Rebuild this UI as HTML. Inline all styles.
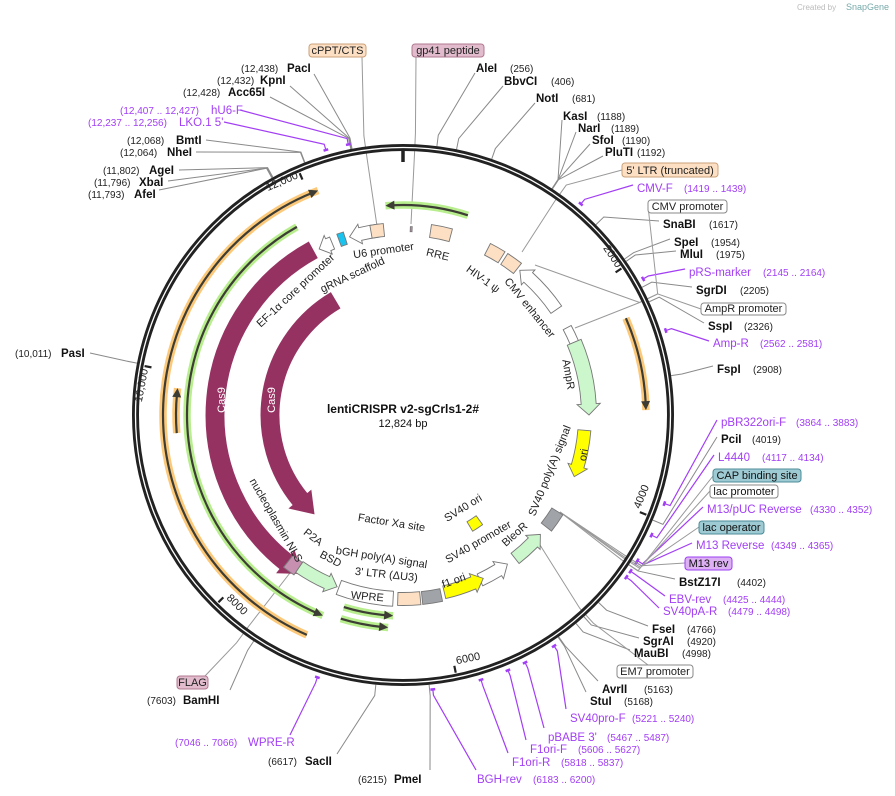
<!DOCTYPE html>
<html><head><meta charset="utf-8"><style>
html,body{margin:0;padding:0;background:#fff;}
svg{display:block;font-family:"Liberation Sans","DejaVu Sans",sans-serif;}
.en{font-weight:bold;font-size:11.5px;fill:#111;}
.ps{font-size:10px;fill:#222;}
.pr{font-size:11.5px;fill:#a23ef5;}
.prs{font-size:10px;fill:#a23ef5;}
.fl{font-size:11px;fill:#222;}
</style></head><body>
<svg id="map" width="895" height="796" viewBox="0 0 895 796" xmlns="http://www.w3.org/2000/svg">
<text x="797" y="10" font-size="8" fill="#bbb">Created by</text>
<text x="846" y="10" font-size="9" fill="#7aa">SnapGene</text>
<g id="leaders"></g>
<g id="ring"></g>
<g id="arcs"></g>
<g id="feats"></g>
<g id="labels"></g>
<text x="403" y="413" text-anchor="middle" font-weight="bold" font-size="12" fill="#111">lentiCRISPR v2-sgCrls1-2#</text>
<text x="403" y="427" text-anchor="middle" font-size="11" fill="#111">12,824 bp</text>
</svg>
<script>
const TOTAL = 12824;
const CX = 403, CY = 415, R = 267.5;
// highlight arcs (ORFs): start bp, end bp, radius, colour, direction
const arcStarts = [12653, 2370, 7253, 9455, 7188, 6512, 6554];
const arcEnds   = [641, 3165, 12086, 9860, 11776, 7022, 7017];
const arcRadii  = [210, 243, 240, 227, 216, 201, 213];
const arcKinds  = ['g','o','o','o','g','g','g'];
const arcDirs   = [-1, 1, 1, 1, -1, -1, -1];
// features
const featNames  = ['Cas9-outer','Cas9-inner','EF-1a-core-promoter','gRNA-scaffold','U6-promoter','cPPT-CTS','gp41-peptide','RRE','HIV-1-psi','5-LTR-box','CMV-enhancer','CMV-promoter','AmpR','ori','SV40-polyA','BleoR','SV40-promoter','f1-ori','bGH-polyA','3-LTR','WPRE','BSD','P2A-NLS','SV40-ori'];
const featStarts = [7570, 7908, 11870, 12108, 12229, 12471, 80, 303, 962, 1175, 1386, 2208, 2386, 3377, 4346, 4666, 5165, 5480, 5985, 6220, 6522, 7160, 7634, 5130];
const featEnds   = [11804, 11734, 12026, 12180, 12560, 12614, 100, 530, 1140, 1353, 1977, 2386, 3206, 3911, 4560, 5058, 5521, 5945, 6200, 6470, 7139, 7634, 7770, 5310];
const featRadii  = [188, 133, 186, 186, 186, 186, 186, 186, 186, 186, 186, 186, 186, 182, 182, 182, 182, 182, 184, 184, 184, 184, 186, 130];
const featWidths = [18, 18, 13, 13, 13, 13, 5, 13, 13, 13, 13, 9, 15, 13, 13, 13, 13, 13, 13, 13, 15, 13, 15, 11];
const featDirs   = [-1, -1, -1, 0, -1, 0, 0, 0, 0, 0, -1, 0, 1, 1, 0, -1, -1, -1, 0, 0, 0, -1, 0, 0];
const featFills  = ['#963262','#963262','#ffffff','#19c3ef','#ffffff','#fde0c4','#c78fb0','#fde0c4','#fde0c4','#fde0c4','#ffffff','#ffffff','#ccf7cc','#ffff00','#a0a3a8','#ccf7cc','#ffffff','#ffff00','#a0a3a8','#fde0c4','#ffffff','#ccf7cc','#c78fb0','#ffff00'];
// labels: name, position text, type, bp
const labNames = ['PacI','KpnI','Acc65I','hU6-F','LKO.1 5\'','BmtI','NheI','AgeI','XbaI','AfeI','PasI','BamHI','WPRE-R','SacII','PmeI','BGH-rev','F1ori-R','F1ori-F','pBABE 3\'','SV40pro-F','StuI','AvrII','MauBI','SgrAI','FseI','SV40pA-R','EBV-rev','BstZ17I','M13 Reverse','M13/pUC Reverse','L4440','PciI','pBR322ori-F','FspI','Amp-R','SspI','SgrDI','pRS-marker','MluI','SpeI','SnaBI','CMV-F','PluTI','SfoI','NarI','KasI','NotI','BbvCI','AleI'];
const labPosText = ['(12,438)','(12,432)','(12,428)','(12,407 .. 12,427)','(12,237 .. 12,256)','(12,068)','(12,064)','(11,802)','(11,796)','(11,793)','(10,011)','(7603)','(7046 .. 7066)','(6617)','(6215)','(6183 .. 6200)','(5818 .. 5837)','(5606 .. 5627)','(5467 .. 5487)','(5221 .. 5240)','(5168)','(5163)','(4998)','(4920)','(4766)','(4479 .. 4498)','(4425 .. 4444)','(4402)','(4349 .. 4365)','(4330 .. 4352)','(4117 .. 4134)','(4019)','(3864 .. 3883)','(2908)','(2562 .. 2581)','(2326)','(2205)','(2145 .. 2164)','(1975)','(1954)','(1617)','(1419 .. 1439)','(1192)','(1190)','(1189)','(1188)','(681)','(406)','(256)'];
const labTypes = ['e','e','e','p','p','e','e','e','e','e','e','e','p','e','e','p','p','p','p','p','e','e','e','e','e','p','p','e','p','p','p','e','p','e','p','e','e','p','e','e','e','p','e','e','e','e','e','e','e'];
const labBps = [12438,12432,12428,12417,12246,12068,12064,11802,11796,11793,10011,7603,7056,6617,6215,6191,5827,5616,5477,5230,5168,5163,4998,4920,4766,4488,4434,4402,4357,4341,4125,4019,3873,2908,2571,2326,2205,2154,1975,1954,1617,1429,1192,1190,1189,1188,681,406,256];
// layout for labels (not data): name x, pos x, y, attach x, attach y
const labLayout = [[287,241,68,314,74],[260,217,80,290,86],[228,183,92,270,97],[211,120,110,240,110],[179,88,122,224,122],[176,127,140,206,140],[167,120,152,196,152],[149,103,170,179,170],[139,94,182,168,181],[134,88,194,159,190],[61,15,353,90,353],[183,147,700,230,690],[248,175,742,290,735],[305,268,761,337,754],[394,358,779,430,770],[477,533,779,476,770],[512,561,762,508,753],[530,578,749,526,740],[548,607,737,544,728],[570,632,718,566,709],[590,624,701,586,692],[602,644,689,598,681],[634,682,653,630,650],[643,687,641,639,638],[652,687,629,648,626],[663,728,611,659,608],[669,723,599,665,596],[679,737,582,675,579],[696,771,545,692,543],[707,810,509,703,507],[718,762,457,714,455],[721,752,439,717,437],[721,796,422,717,420],[717,753,369,713,366],[713,760,343,709,341],[708,744,326,704,323],[696,740,290,692,287],[689,763,272,685,269],[680,716,254,676,251],[674,711,242,670,239],[663,709,224,659,221],[637,684,188,633,185],[605,637,152,603,156],[592,622,140,590,144],[578,611,128,576,132],[563,597,116,562,120],[536,572,98,535,103],[504,551,81,503,86],[476,510,68,475,73]];
// boxed feature labels
const boxTexts = ['cPPT/CTS','gp41 peptide','5\' LTR (truncated)','CMV promoter','AmpR promoter','CAP binding site','lac promoter','lac operator','M13 rev','EM7 promoter','FLAG'];
const boxBps = [12540, 90, 1260, 2300, 2300, 4400, 4380, 4370, 4357, 4900, 7700];
const boxLayout = [[309,44,366,57,'#fde0c4','#caa078','#222',362,57],[412,44,484,57,'#e2bccd','#b07890','#222',416,57],[622,163,718,177,'#fde0c4','#caa078','#222',622,170],[648,200,727,213,'#fff','#888','#222',648,206],[701,303,786,315,'#fff','#888','#222',701,309],[713,469,801,482,'#9dcad3','#4d8c98','#111',713,476],[710,485,778,498,'#fff','#888','#111',710,491],[699,521,764,534,'#9dcad3','#4d8c98','#111',699,527],[685,557,732,570,'#dcb0f2','#9d3ff2','#111',685,563],[617,665,693,678,'#fff','#888','#222',648,665],[177,676,208,689,'#e2bccd','#b07890','#222',205,676]];
const boxTargets = [[377,226],[411,224],[522,252],[535,265],[575,328],[560,512],[560,512],[560,512],[560,512],[540,545],[300,560]];
const tickBps = [2000,4000,6000,8000,10000,12000];
const tickTexts = ['2000','4000','6000','8000','10,000','12,000'];

const NS='http://www.w3.org/2000/svg';
function ang(bp){return bp/TOTAL*360;}
function pol(r,a){const t=a*Math.PI/180;return [CX+r*Math.sin(t),CY-r*Math.cos(t)];}
function mk(tag,attrs,parent){const e=document.createElementNS(NS,tag);for(const k in attrs)e.setAttribute(k,attrs[k]);parent.appendChild(e);return e;}
function span(s,e){let a0=ang(s),a1=ang(e);if(a1<a0)a1+=360;return [a0,a1];}
function arcD(r,a0,a1){const p0=pol(r,a0),p1=pol(r,a1);const lg=(a1-a0)>180?1:0;return `M${p0[0]},${p0[1]} A${r},${r} 0 ${lg} 1 ${p1[0]},${p1[1]}`;}

const ring=document.getElementById('ring');
let c=mk('circle',{cx:CX,cy:CY,r:R,fill:'none',stroke:'#222','stroke-width':7},ring);


c=mk('circle',{cx:CX,cy:CY,r:R,fill:'none',stroke:'#fff','stroke-width':1.3},ring);


let z=mk('line',{x1:CX,y1:CY-264,x2:CX,y2:CY-253,stroke:'#222','stroke-width':3.5},ring);


tickBps.forEach((bp,i)=>{
  const a=ang(bp);const p0=pol(263,a),p1=pol(256,a);
  const t=mk('line',{x1:p0[0],y1:p0[1],x2:p1[0],y2:p1[1],stroke:'#222','stroke-width':2.2},ring);
  
  
  const lower=a>90&&a<270;
  const q=pol(257,a-0.6);
  const rot=lower?a-180:a;
  const tx=mk('text',{x:q[0],y:q[1],'font-size':11,fill:'#222','text-anchor':lower?'start':'end',transform:`rotate(${rot} ${q[0]} ${q[1]}) translate(0,-2)`},ring);
  tx.textContent=tickTexts[i];
  
  
});

const arcsG=document.getElementById('arcs');
arcStarts.forEach((s,i)=>{
  const [a0,a1]=span(s,arcEnds[i]);const r=arcRadii[i];
  const glow=arcKinds[i]==='g'?'#b8ee8e':'#fcc97a';
  const g=mk('g',{},arcsG);
  
  
  mk('path',{d:arcD(r,a0,a1),fill:'none',stroke:glow,'stroke-width':7.5,'stroke-linecap':'butt'},g);
  const hd=9/r*180/Math.PI;
  const b0=arcDirs[i]<0?a0+hd*0.6:a0, b1=arcDirs[i]>0?a1-hd*0.6:a1;
  mk('path',{d:arcD(r,b0,b1),fill:'none',stroke:'#3d3d35','stroke-width':2.2},g);
  const tipA=arcDirs[i]>0?a1:a0, baseA=arcDirs[i]>0?a1-hd:a0+hd;
  const t=pol(r,tipA),u=pol(r+4.5,baseA),v=pol(r-4.5,baseA);
  mk('path',{d:`M${t[0]},${t[1]} L${u[0]},${u[1]} L${v[0]},${v[1]} Z`,fill:'#3d3d35'},g);
});

const featsG=document.getElementById('feats');
featStarts.forEach((s,i)=>{
  const [a0,a1]=span(s,featEnds[i]);const r=featRadii[i],w=featWidths[i]/2;const d=featDirs[i];
  const hw=w*1.55;let hl=(w>8?20:11)/r*180/Math.PI;if(hl>(a1-a0)*0.7)hl=(a1-a0)*0.7;
  let b0=a0,b1=a1;if(d>0)b1=a1-hl;if(d<0)b0=a0+hl;
  const o0=pol(r+w,b0),o1=pol(r+w,b1),i1=pol(r-w,b1),i0=pol(r-w,b0);
  const lg=(b1-b0)>180?1:0;
  let p=`M${o0[0]},${o0[1]} A${r+w},${r+w} 0 ${lg} 1 ${o1[0]},${o1[1]} `;
  if(d>0){const h1=pol(r+hw,b1),tp=pol(r,a1),h2=pol(r-hw,b1);p+=`L${h1[0]},${h1[1]} L${tp[0]},${tp[1]} L${h2[0]},${h2[1]} `;}
  p+=`L${i1[0]},${i1[1]} A${r-w},${r-w} 0 ${lg} 0 ${i0[0]},${i0[1]} `;
  if(d<0){const h2=pol(r-hw,b0),tp=pol(r,a0),h1=pol(r+hw,b0);p+=`L${h2[0]},${h2[1]} L${tp[0]},${tp[1]} L${h1[0]},${h1[1]} `;}
  p+='Z';
  const f=mk('path',{d:p,fill:featFills[i],stroke:featFills[i]==='#963262'?'#963262':'#777','stroke-width':0.9},featsG);
  
  
});

const leadG=document.getElementById('leaders'),labG=document.getElementById('labels');
labNames.forEach((n,i)=>{
  const [nx,px,y,ax,ay]=labLayout[i];const a=ang(labBps[i]);const t=labTypes[i];
  const col=t==='p'?'#a23ef5':'#8a8a8a';
  const e1=pol(282,a),e2=pol(t==='p'?276:271,a);
  const l=mk('polyline',{points:`${ax},${ay} ${e1[0]},${e1[1]} ${e2[0]},${e2[1]}`,fill:'none',stroke:col,'stroke-width':t==='p'?1.2:1},leadG);
  
  
  if(t==='p'){const m0=pol(276,a-0.5),m1=pol(276,a+0.5);
    const m=mk('line',{x1:m0[0],y1:m0[1],x2:m1[0],y2:m1[1],stroke:col,'stroke-width':2.5},leadG);
    
    }
  const tx=mk('text',{x:nx,y:y+4,class:t==='p'?'pr':'en'},labG);tx.textContent=n;
  
  
  const ps=mk('text',{x:px,y:y+4,class:t==='p'?'prs':'ps'},labG);ps.textContent=labPosText[i];
  
  
});
boxTexts.forEach((n,i)=>{
  const [x1,y1,x2,y2,fill,st,tc,ax,ay]=boxLayout[i];const a=ang(boxBps[i]);
  const e1=pol(282,a),e2=pol(262,a);const tg=boxTargets[i];
  const l=mk('polyline',{points:`${ax},${ay} ${e1[0]},${e1[1]} ${e2[0]},${e2[1]} ${tg[0]},${tg[1]}`,fill:'none',stroke:'#999','stroke-width':1},leadG);
  
  
  const b=mk('rect',{x:x1,y:y1,width:x2-x1,height:y2-y1,rx:3,fill:fill,stroke:st,'stroke-width':1},labG);
  
  
  const tx=mk('text',{x:(x1+x2)/2,y:y2-3,'text-anchor':'middle','font-size':11,fill:tc},labG);tx.textContent=n;
  
  
});
// inner feature labels (layout)
const inner=[['U6 promoter',384,254,-8],['gRNA scaffold',354,278,-25],['RRE',437,258,13],['EF-1α core promoter',298,293,-43],['HIV-1 ψ',481,282,36],['CMV enhancer',527,310,51],['AmpR',565,375,80],['SV40 poly(A) signal',553,472,-68],['Factor Xa site',391,526,9],['SV40 ori',465,511,-32],['SV40 promoter',480,545,-30],['BleoR',517,537,-42],['f1 ori',455,584,-20],['bGH poly(A) signal',381,561,9],['3\' LTR (ΔU3)',386,578,6],['WPRE',367,600,5],['BSD',329,562,28],['P2A',311,540,38],['nucleoplasmin NLS',273,522,60]];
inner.forEach(([t,x,y,r],i)=>{
  const tx=mk('text',{x:x,y:y,'text-anchor':'middle','font-size':11,fill:'#222',transform:`rotate(${r} ${x} ${y})`},labG);
  tx.textContent=t;
  
  
});
[['Cas9',222,400],['Cas9',272,400]].forEach(([t,x,y],i)=>{
  const tx=mk('text',{x:x,y:y,'text-anchor':'middle','font-size':11,fill:'#fff',transform:`rotate(-90 ${x} ${y})`,'dominant-baseline':'central'},labG);
  tx.textContent=t;
  
  
});
const ot=mk('text',{x:584,y:455,'text-anchor':'middle','font-size':11,fill:'#222',transform:'rotate(-80 584 455)','dominant-baseline':'central'},labG);
ot.textContent='ori';


</script>
</body></html>
